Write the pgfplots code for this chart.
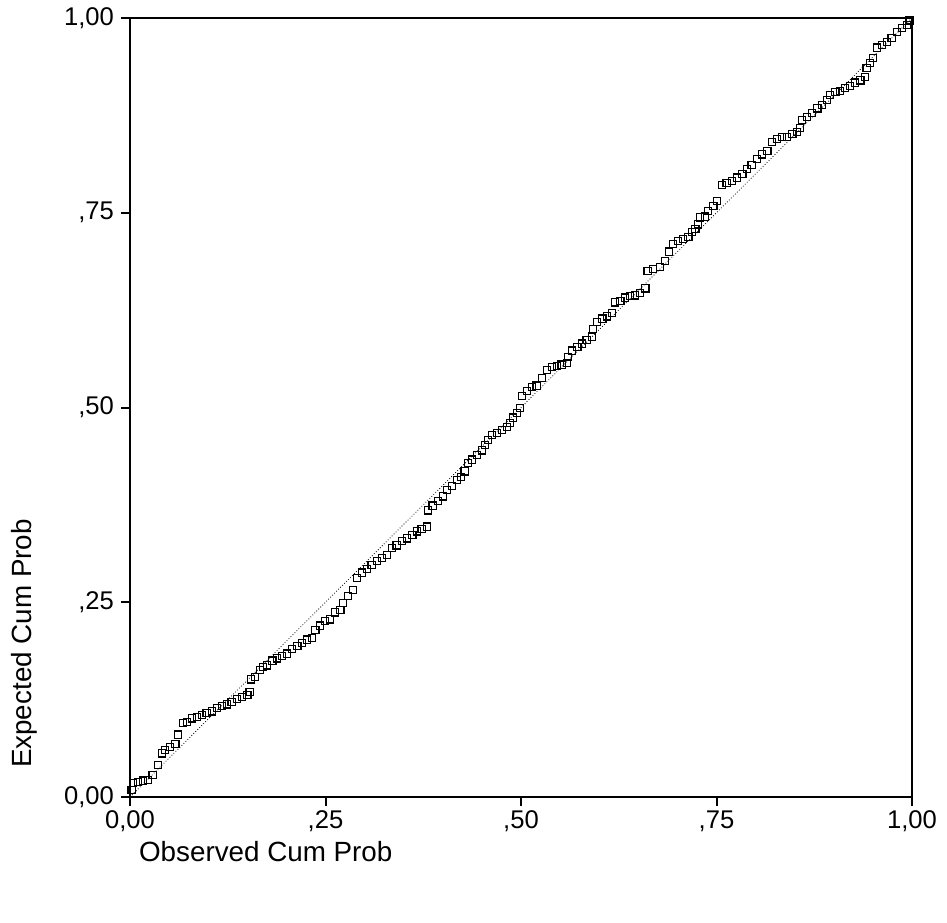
\documentclass[border=0pt]{standalone}
\usepackage{pgfplots}
\pgfplotsset{compat=1.18}
\usepackage{fontspec}
\setmainfont{Liberation Sans}
\begin{document}
\begin{tikzpicture}
\begin{axis}[
  name=ax,
  scale only axis,
  width=391pt, height=389.5pt,
  xmin=0, xmax=1, ymin=0, ymax=1,
  axis line style={line width=1pt},
  tick style={line width=1pt, black},
  tick align=outside,
  major tick length=4.5pt,
  xtick pos=bottom, ytick pos=left,
  xtick={0,0.25,0.5,0.75,1},
  ytick={0,0.25,0.5,0.75,1},
  xticklabels={{0,00},{,25},{,50},{,75},{1,00}},
  yticklabels={{0,00},{,25},{,50},{,75},{1,00}},
  ticklabel style={font=\fontsize{12.8}{14}\selectfont},
  xticklabel style={yshift=1pt},
  xlabel={Observed Cum Prob},
  ylabel={Expected Cum Prob},
  label style={font=\fontsize{13.9}{16}\selectfont},
  xlabel style={at={([xshift=1pt,yshift=-27.5pt]axis description cs:0,0)}, anchor=west},
  ylabel style={at={([xshift=-53pt,yshift=11pt]axis description cs:0,0)}, anchor=west},
  clip=false,
]
\addplot[black, line width=0.4pt, densely dotted] coordinates {(0,0) (1,1)};
\addplot[only marks, mark=square, mark size=1.8pt, mark options={line width=0.6pt, black}] table {
x y
0.002 0.009
0.004 0.018
0.010 0.019
0.017 0.021
0.023 0.022
0.029 0.028
0.036 0.041
0.041 0.056
0.045 0.060
0.051 0.064
0.058 0.068
0.061 0.080
0.068 0.095
0.073 0.096
0.079 0.101
0.086 0.103
0.092 0.105
0.098 0.108
0.105 0.110
0.111 0.114
0.118 0.117
0.124 0.119
0.130 0.122
0.137 0.126
0.143 0.128
0.150 0.131
0.153 0.135
0.155 0.151
0.160 0.154
0.166 0.163
0.170 0.167
0.175 0.169
0.182 0.175
0.188 0.178
0.194 0.181
0.201 0.184
0.207 0.190
0.214 0.194
0.220 0.198
0.226 0.202
0.233 0.204
0.237 0.214
0.243 0.220
0.249 0.226
0.256 0.228
0.262 0.237
0.269 0.240
0.272 0.249
0.279 0.258
0.285 0.266
0.290 0.281
0.297 0.288
0.303 0.293
0.309 0.298
0.316 0.303
0.322 0.307
0.329 0.311
0.335 0.320
0.341 0.323
0.348 0.329
0.354 0.332
0.361 0.336
0.367 0.341
0.373 0.344
0.380 0.347
0.381 0.368
0.387 0.374
0.394 0.380
0.400 0.386
0.405 0.394
0.412 0.399
0.418 0.407
0.423 0.411
0.428 0.418
0.432 0.429
0.437 0.433
0.444 0.439
0.450 0.445
0.454 0.452
0.458 0.458
0.463 0.465
0.469 0.467
0.476 0.471
0.482 0.475
0.486 0.480
0.490 0.487
0.495 0.493
0.499 0.499
0.501 0.515
0.508 0.521
0.514 0.526
0.520 0.528
0.527 0.538
0.533 0.548
0.540 0.552
0.546 0.553
0.552 0.555
0.559 0.557
0.560 0.565
0.565 0.573
0.572 0.578
0.578 0.582
0.584 0.587
0.591 0.591
0.592 0.601
0.597 0.610
0.604 0.614
0.610 0.617
0.616 0.621
0.620 0.635
0.627 0.637
0.633 0.641
0.639 0.643
0.646 0.644
0.652 0.647
0.659 0.653
0.662 0.675
0.669 0.678
0.678 0.680
0.684 0.688
0.689 0.700
0.694 0.710
0.701 0.714
0.707 0.716
0.714 0.719
0.719 0.725
0.723 0.729
0.726 0.735
0.729 0.744
0.735 0.745
0.739 0.752
0.746 0.759
0.751 0.765
0.757 0.786
0.763 0.788
0.770 0.791
0.776 0.795
0.783 0.800
0.789 0.806
0.795 0.811
0.802 0.819
0.808 0.825
0.815 0.829
0.821 0.841
0.827 0.845
0.834 0.847
0.840 0.847
0.847 0.851
0.853 0.854
0.857 0.859
0.859 0.869
0.866 0.873
0.872 0.878
0.879 0.884
0.885 0.888
0.891 0.895
0.895 0.901
0.902 0.905
0.908 0.906
0.914 0.910
0.921 0.913
0.927 0.917
0.934 0.920
0.940 0.924
0.942 0.936
0.946 0.942
0.950 0.949
0.955 0.962
0.962 0.965
0.968 0.969
0.974 0.974
0.981 0.982
0.987 0.987
0.994 0.991
0.997 0.997
};
\end{axis}
\useasboundingbox ([shift={(-65pt,-62.5pt)}]ax.south west) rectangle ([shift={(17.5pt,9pt)}]ax.north east);
\end{tikzpicture}
\end{document}
